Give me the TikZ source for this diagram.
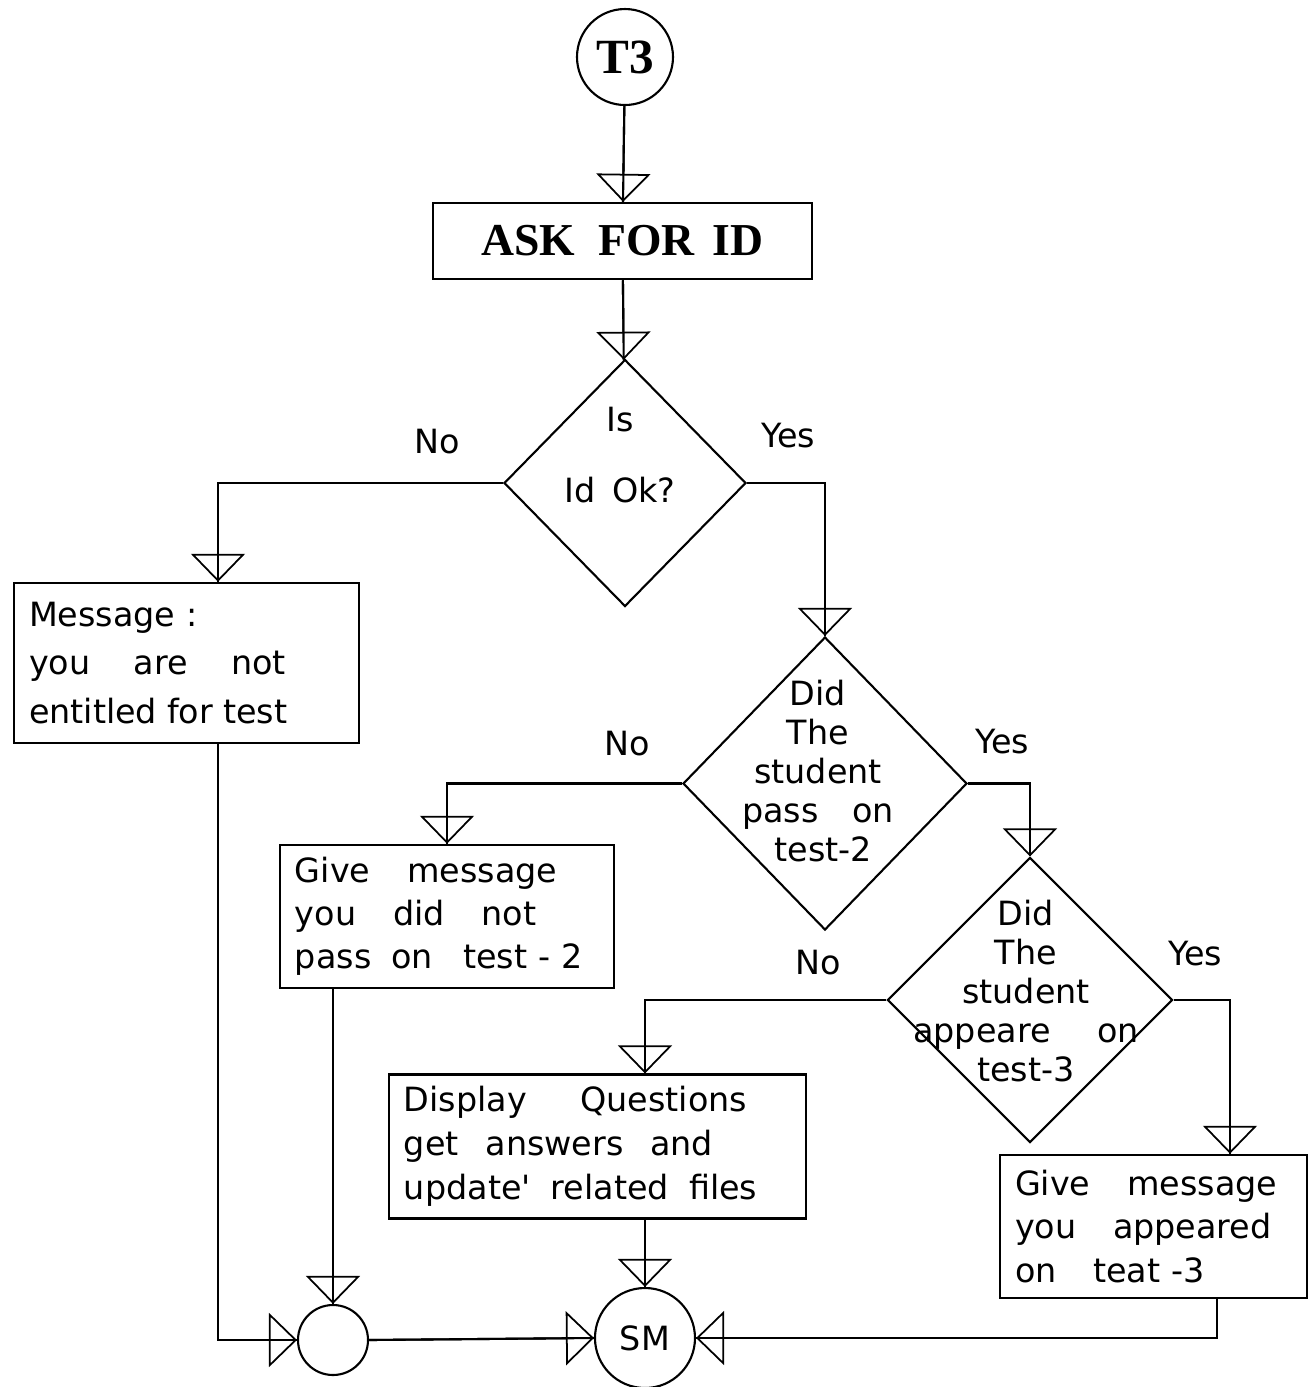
\documentclass[tikz,border=0pt]{standalone}
\usepackage{fontspec}
\setmainfont{DejaVu Sans}
\newfontfamily\headfont{Liberation Serif}
\usepackage{tikz}
\usetikzlibrary{arrows.meta, shapes.geometric}
\newcommand{\gap}[1][1.1]{\hspace{#1em}}

\begin{document}
\begin{tikzpicture}[
		flow/.style={line width=0.6pt, -{Triangle[open, length=0.28cm, width=0.54cm, line width=0.5pt]}, postaction={draw, -}},
		procbox/.style={draw, rectangle, line width=0.7pt, inner xsep=0.15cm, align=left, font=\fontsize{9.5}{13}\selectfont},
		decision/.style={draw, diamond, line width=0.6pt, inner sep=0pt},
		dtext/.style={align=center, font=\fontsize{9.5}{11.1}\selectfont},
		lbl/.style={font=\fontsize{9.5}{11}\selectfont},
		conn/.style={draw, circle, line width=0.6pt, inner sep=0pt}
	]
	\useasboundingbox (0,0) rectangle (13.11,-13.87);

	% start, id check
	\node[conn, minimum size=0.96cm, font=\headfont\bfseries\fontsize{14}{16}\selectfont] (t3) at (6.25,-0.57) {T3};
	\node[draw, rectangle, line width=0.7pt, minimum width=3.79cm, minimum height=0.76cm, font=\headfont\bfseries\fontsize{13}{15}\selectfont] (ask) at (6.225,-2.41) {ASK\gap[0.5]FOR\gap[0.4]ID};
	\node[decision, minimum width=2.42cm, minimum height=2.47cm] (d1) at (6.25,-4.83) {};
	\node[dtext, font=\fontsize{9.5}{20}\selectfont] (d1t) at (6.2,-4.55) {Is\\Id\gap[0.5]Ok?};

	% branches
	\node[procbox, minimum width=3.45cm, minimum height=1.60cm, text width=3.15cm, font=\fontsize{9.5}{13.8}\selectfont] (msg) at (1.865,-6.63) {Message :\\you\gap[1.3]are\gap[1.3]not\\entitled\gap[0.3]for\gap[0.3]test};
	\node[decision, minimum width=2.84cm, minimum height=2.93cm] (d2) at (8.25,-7.835) {};
	\node[dtext] (d2t) at (8.18,-7.71) {Did\\The\\student\\pass\gap[1]on\\\ test-2};
	\node[procbox, minimum width=3.34cm, minimum height=1.43cm, text width=3.04cm, font=\fontsize{9.5}{12.3}\selectfont] (g1) at (4.47,-9.165) {Give\gap message\\you\gap did\gap not\\pass\gap[0.6]on\gap[0.9]test - 2};
	\node[decision, minimum width=2.85cm, minimum height=2.85cm] (d3) at (10.3,-10.0) {};
	\node[dtext] (d3t) at (10.26,-9.91) {Did\\The\\student\\appeare\gap[1.4]on\\test-3};
	\node[procbox, minimum width=4.17cm, minimum height=1.41cm, text width=3.87cm, font=\fontsize{9.5}{12.5}\selectfont] (disp) at (5.975,-11.465) {Display\gap[1.6]Questions\\get\gap[0.8]answers\gap[0.8]and\\update\textquotesingle\gap[0.6]related\gap[0.6]files};
	\node[procbox, minimum width=3.07cm, minimum height=1.43cm, text width=2.77cm, font=\fontsize{9.5}{12.5}\selectfont] (g2) at (11.535,-12.265) {Give\gap message\\you\gap appeared\\ on\gap teat -3};

	% joins
	\node[conn, minimum size=0.70cm] (j1) at (3.33,-13.40) {};
	\node[conn, minimum size=1.00cm, font=\fontsize{9.5}{11}\selectfont] (sm) at (6.45,-13.38) {SM};

	\coordinate (noL) at (2.18,-4.83);
	\coordinate (yesR) at (12.30,-10.0);
	\coordinate (outR) at (12.17,-12.9);

	% labels
	\node[lbl] (no1) at (4.37,-4.42) {No};
	\node[lbl] (yes1) at (7.88,-4.36) {Yes};
	\node[lbl] (no2) at (6.27,-7.44) {No};
	\node[lbl] (yes2) at (10.02,-7.42) {Yes};
	\node[lbl] (no3) at (8.18,-9.63) {No};
	\node[lbl] (yes3) at (11.95,-9.54) {Yes};

	% connectors
	\draw[flow] (t3) -- (ask);
	\draw[flow] (ask) -- (d1);
	\draw[flow] (d1.west) -| (msg.north -| noL);
	\draw[flow] (d1.east) -| (d2.north);
	\draw[flow] (d2.west) -| (g1.north);
	\draw[flow] (d2.east) -| (d3.north);
	\draw[flow] (d3.west) -| (disp.north -| sm);
	\draw[flow] (d3.east) -| (g2.north -| yesR);
	\draw[flow] (msg.south -| noL) |- (j1.west);
	\draw[flow] (g1.south -| j1) -- (j1.north);
	\draw[flow] (disp.south -| sm) -- (sm.north);
	\draw[flow] (j1.east) -- (sm.west);
	\draw[flow] (g2.south -| outR) |- (sm.east);
\end{tikzpicture}
\end{document}
